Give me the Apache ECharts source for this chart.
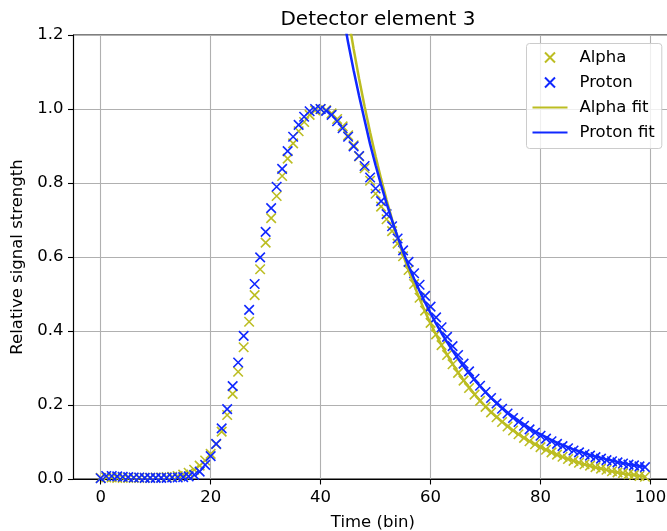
<!DOCTYPE html>
<html>
<head>
<meta charset="utf-8">
<script src="https://cdn.jsdelivr.net/npm/echarts@6/dist/echarts.min.js"></script>
<style>
  html, body { margin: 0; padding: 0; background: #fff; }
  #chart { width: 667px; height: 531px; }
</style>
</head>
<body>
<div id="chart"></div>
<script>
// time bins of the measured pulses
const bins = [
  0, 1, 2, 3, 4, 5, 6, 7, 8, 9, 10, 11, 12, 13, 14, 15, 16, 17, 18, 19,
  20, 21, 22, 23, 24, 25, 26, 27, 28, 29, 30, 31, 32, 33, 34, 35, 36, 37, 38, 39,
  40, 41, 42, 43, 44, 45, 46, 47, 48, 49, 50, 51, 52, 53, 54, 55, 56, 57, 58, 59,
  60, 61, 62, 63, 64, 65, 66, 67, 68, 69, 70, 71, 72, 73, 74, 75, 76, 77, 78, 79,
  80, 81, 82, 83, 84, 85, 86, 87, 88, 89, 90, 91, 92, 93, 94, 95, 96, 97, 98, 99
];
const alpha = [
  0.003, 0.004, 0.004, 0.003, 0.003, 0.003, 0.003, 0.003, 0.003, 0.003,
  0.004, 0.004, 0.005, 0.006, 0.008, 0.012, 0.017, 0.025, 0.036, 0.050,
  0.068, 0.094, 0.128, 0.173, 0.230, 0.290, 0.356, 0.425, 0.497, 0.567,
  0.639, 0.705, 0.765, 0.819, 0.866, 0.907, 0.940, 0.965, 0.984, 0.996,
  1.000, 0.997, 0.988, 0.973, 0.953, 0.929, 0.902, 0.872, 0.840, 0.806,
  0.771, 0.736, 0.702, 0.670, 0.636, 0.602, 0.565, 0.527, 0.490, 0.455,
  0.422, 0.391, 0.362, 0.335, 0.310, 0.287, 0.266, 0.246, 0.228, 0.211,
  0.195, 0.180, 0.167, 0.154, 0.142, 0.131, 0.121, 0.111, 0.102, 0.094,
  0.086, 0.079, 0.072, 0.066, 0.060, 0.054, 0.049, 0.044, 0.040, 0.036,
  0.032, 0.028, 0.025, 0.021, 0.018, 0.016, 0.013, 0.011, 0.008, 0.006
];
const proton = [
  0.002, 0.008, 0.008, 0.007, 0.006, 0.005, 0.004, 0.004, 0.003, 0.003,
  0.003, 0.003, 0.003, 0.004, 0.004, 0.005, 0.007, 0.011, 0.020, 0.038,
  0.062, 0.095, 0.137, 0.189, 0.251, 0.315, 0.387, 0.457, 0.527, 0.599,
  0.668, 0.732, 0.790, 0.838, 0.886, 0.925, 0.957, 0.979, 0.994, 1.000,
  1.000, 0.995, 0.984, 0.967, 0.948, 0.925, 0.899, 0.873, 0.846, 0.815,
  0.785, 0.751, 0.716, 0.683, 0.650, 0.618, 0.587, 0.556, 0.525, 0.495,
  0.466, 0.437, 0.410, 0.384, 0.359, 0.335, 0.312, 0.291, 0.271, 0.252,
  0.235, 0.219, 0.204, 0.190, 0.177, 0.165, 0.154, 0.144, 0.134, 0.125,
  0.117, 0.109, 0.102, 0.095, 0.089, 0.083, 0.077, 0.072, 0.067, 0.063,
  0.059, 0.055, 0.051, 0.048, 0.045, 0.042, 0.039, 0.037, 0.034, 0.032
];

// fitted tails (drawn from bin 44 on, clipped at the top of the plot)
const fitBins = [
  44, 45, 46, 47, 48, 49, 50, 51, 52, 53, 54, 55, 56, 57, 58, 59,
  60, 61, 62, 63, 64, 65, 66, 67, 68, 69, 70, 71, 72, 73, 74, 75, 76, 77, 78, 79,
  80, 81, 82, 83, 84, 85, 86, 87, 88, 89, 90, 91, 92, 93, 94, 95, 96, 97, 98, 99
];
const alphaFit = [
  1.343, 1.250, 1.163, 1.082, 1.007, 0.937, 0.872, 0.811, 0.754, 0.701, 0.652, 0.606, 0.564, 0.524, 0.487, 0.452,
  0.420, 0.390, 0.362, 0.336, 0.311, 0.288, 0.267, 0.248, 0.229, 0.212, 0.196, 0.181, 0.168, 0.155, 0.143, 0.131, 0.121, 0.111, 0.102, 0.094,
  0.086, 0.079, 0.072, 0.065, 0.059, 0.054, 0.049, 0.044, 0.039, 0.035, 0.031, 0.028, 0.024, 0.021, 0.018, 0.015, 0.013, 0.011, 0.008, 0.006
];
const protonFit = [
  1.260, 1.180, 1.105, 1.035, 0.970, 0.905, 0.848, 0.795, 0.745, 0.698, 0.655, 0.614, 0.576, 0.541, 0.508, 0.477,
  0.448, 0.420, 0.394, 0.370, 0.347, 0.325, 0.305, 0.286, 0.268, 0.251, 0.235, 0.220, 0.206, 0.193, 0.180, 0.169, 0.158, 0.148, 0.138, 0.129,
  0.121, 0.113, 0.105, 0.098, 0.092, 0.086, 0.080, 0.075, 0.070, 0.065, 0.061, 0.057, 0.053, 0.050, 0.046, 0.043, 0.040, 0.038, 0.035, 0.033
];

const xTicks = [0, 20, 40, 60, 80, 100];

const ALPHA = '#bcbd22';
const PROTON = '#1028ff';
const FONT = 'DejaVu Sans';
const cross = 'path://M0,0L10,10M10,0L0,10';

function pairs(xs, ys) {
  return xs.map((x, i) => [x, ys[i]]);
}

const chart = echarts.init(document.getElementById('chart'));

const axisText = { color: '#000', fontSize: 16.5, fontFamily: FONT };
// hide the dot ECharts puts in the middle of a line series' legend icon
const noDot = { color: 'rgba(0,0,0,0)', borderWidth: 0 };

chart.setOption({
  animation: false,
  backgroundColor: '#fff',
  title: {
    text: 'Detector element 3',
    left: 373,
    textAlign: 'center',
    top: 5,
    textStyle: { color: '#000', fontSize: 20, fontWeight: 'normal', fontFamily: FONT }
  },
  grid: {
    left: 73.5,
    right: -5.2,
    top: 35,
    bottom: 52,
    outerBoundsMode: 'none',
    show: true,
    borderColor: '#000',
    borderWidth: 1.1,
    backgroundColor: '#fff'
  },
  legend: {
    orient: 'vertical',
    left: 526.5,
    top: 43.5,
    padding: [5, 7, 7, 5],
    itemWidth: 35,
    itemHeight: 10,
    itemGap: 7,
    backgroundColor: 'rgba(255,255,255,0.8)',
    borderColor: '#cccccc',
    borderWidth: 1,
    borderRadius: 3,
    textStyle: { color: '#000', fontSize: 16.5, fontFamily: FONT, lineHeight: 18, padding: [0, 0, 0, 7] },
    data: [
      'Alpha',
      'Proton',
      { name: 'Alpha fit', itemStyle: noDot },
      { name: 'Proton fit', itemStyle: noDot }
    ]
  },
  xAxis: {
    type: 'value',
    min: -4.95,
    max: 103.95,
    name: 'Time (bin)',
    nameLocation: 'middle',
    nameGap: 35,
    nameTextStyle: axisText,
    axisLine: { onZero: false, lineStyle: { color: '#000', width: 1.1 } },
    axisTick: { customValues: xTicks, length: 5.5, lineStyle: { color: '#000', width: 1.1 } },
    axisLabel: Object.assign({ customValues: xTicks, margin: 10 }, axisText),
    splitLine: { show: true, lineStyle: { color: '#b0b0b0', width: 1.1 } }
  },
  yAxis: {
    type: 'value',
    min: 0,
    max: 1.2,
    interval: 0.2,
    name: 'Relative signal strength',
    nameLocation: 'middle',
    nameGap: 45,
    nameTextStyle: axisText,
    axisLine: { show: true, onZero: false, lineStyle: { color: '#000', width: 1.1 } },
    axisTick: { show: true, length: 5.5, lineStyle: { color: '#000', width: 1.1 } },
    axisLabel: Object.assign({ margin: 10, formatter: v => v.toFixed(1) }, axisText),
    splitLine: { show: true, lineStyle: { color: '#b0b0b0', width: 1.1 } }
  },
  series: [
    {
      name: 'Alpha',
      type: 'scatter',
      data: pairs(bins, alpha),
      symbol: cross,
      symbolSize: 9.5,
      silent: true,
      itemStyle: { color: 'rgba(0,0,0,0)', borderColor: ALPHA, borderWidth: 1.6, opacity: 1 }
    },
    {
      name: 'Proton',
      type: 'scatter',
      data: pairs(bins, proton),
      symbol: cross,
      symbolSize: 9.5,
      silent: true,
      itemStyle: { color: 'rgba(0,0,0,0)', borderColor: PROTON, borderWidth: 1.6, opacity: 1 }
    },
    {
      name: 'Alpha fit',
      type: 'line',
      data: pairs(fitBins, alphaFit),
      symbol: 'none',
      clip: true,
      silent: true,
      itemStyle: { color: ALPHA },
      lineStyle: { color: ALPHA, width: 2.5 }
    },
    {
      name: 'Proton fit',
      type: 'line',
      data: pairs(fitBins, protonFit),
      symbol: 'none',
      clip: true,
      silent: true,
      itemStyle: { color: PROTON },
      lineStyle: { color: PROTON, width: 2.5 }
    }
  ]
});
</script>
</body>
</html>
